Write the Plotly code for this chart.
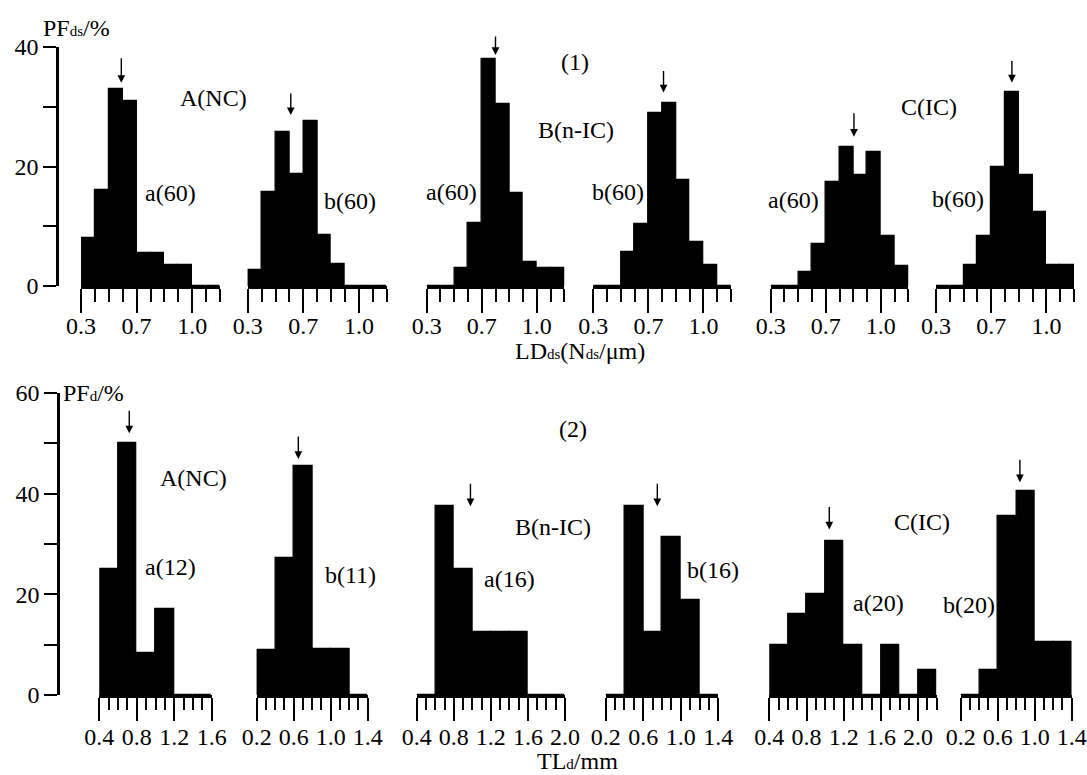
import numpy as np
import plotly.graph_objects as go

# ---------------- data ----------------
# Row (1): LDds histograms, bins of 0.1 from 0.3 to 1.3
ld_bin_start = 0.3
ld_bin_width = 0.1
ld_A_a = [8, 16, 33, 31, 5.5, 5.5, 3.5, 3.5, 0, 0]
ld_A_b = [2.7, 15.7, 25.7, 18.7, 27.6, 8.6, 3.6, 0, 0, 0]
ld_B_a = [0, 0, 3, 10.5, 38, 30.5, 15.5, 4, 3, 3]
ld_B_b = [0, 0, 5.7, 10.4, 29, 30.7, 17.7, 7.4, 3.5, 0]
ld_C_a = [0, 0, 2.4, 7.1, 17.4, 23.3, 18.6, 22.5, 8.4, 3.3]
ld_C_b = [0, 0, 3.5, 8.3, 20, 32.4, 18.6, 12.4, 3.5, 3.5]
ld_means = [0.59, 0.61, 0.80, 0.81, 0.905, 0.85]
ld_ticktext = ["0.3", "0.7", "1.0"]
ld_tickvals = [0.3, 0.7, 1.1]

# Row (2): TLd histograms, bins of 0.2
tl_bin_width = 0.2
tl_A_a = [25, 50, 8.3, 17, 0, 0]              # from 0.4
tl_A_b = [9, 27.3, 45.5, 9.1, 9.1, 0]         # from 0.2
tl_B_a = [0, 37.5, 25, 12.5, 12.5, 12.5, 0, 0]  # from 0.4
tl_B_b = [0, 37.5, 12.5, 31.3, 18.8, 0]       # from 0.2
tl_C_a = [10, 16, 20, 30.5, 10, 0, 10, 0, 5]  # from 0.4
tl_C_b = [0, 5, 35.5, 40.5, 10.5, 10.5]       # from 0.2
tl_starts = [0.4, 0.2, 0.4, 0.2, 0.4, 0.2]
tl_ranges = [(0.4, 1.6), (0.2, 1.4), (0.4, 2.0), (0.2, 1.4), (0.4, 2.2), (0.2, 1.4)]
tl_majors = [[0.4, 0.8, 1.2, 1.6], [0.2, 0.6, 1.0, 1.4], [0.4, 0.8, 1.2, 1.6, 2.0],
             [0.2, 0.6, 1.0, 1.4], [0.4, 0.8, 1.2, 1.6, 2.0], [0.2, 0.6, 1.0, 1.4]]
tl_means = [0.72, 0.65, 0.98, 0.75, 1.045, 0.84]

panel_labels_1 = ["a(60)", "b(60)", "a(60)", "b(60)", "a(60)", "b(60)"]
panel_labels_2 = ["a(12)", "b(11)", "a(16)", "b(16)", "a(20)", "b(20)"]
group_labels = ["A(NC)", "B(n-IC)", "C(IC)"]

# ---------------- layout geometry (pixels) ----------------
W, H = 1087, 775
FONT = "Liberation Serif, Times New Roman, serif"
FS = 24
TFS = 24

def px(x):
    return x / W

def py(y):
    return 1 - y / H

row1_dom = [(81, 220), (247.7, 386.7), (426.7, 564.3), (593.3, 731), (770.7, 908.3), (936, 1074)]
row2_dom = [(99.3, 211.7), (256.7, 367.7), (416.7, 565), (605.7, 718.3), (769.3, 936.7), (960.7, 1071.7)]
row1_y = (286, 47)
row2_y = (695, 393)
arrow_gap1 = [6, 6, 4, 10, 10, 10]
arrow_len1 = [26, 23, 20, 23, 25, 23]
arrow_gap2 = [10, 7, 0, 0, 12, 9]
arrow_len2 = [24, 24, 24, 24, 24, 24]

fig = go.Figure()
layout = dict(
    width=W, height=H, margin=dict(l=0, r=0, t=0, b=0, autoexpand=False),
    paper_bgcolor="white", plot_bgcolor="rgba(0,0,0,0)",
    showlegend=False, bargap=0, font=dict(family=FONT, size=FS, color="black"),
)

annotations = []

def add_arrow(xref, yref, xv, top, gap, length):
    annotations.append(dict(
        x=xv, y=top, xref=xref, yref=yref, text="", showarrow=True,
        ax=0, ay=-(gap + length), axref="pixel", ayref="pixel",
        standoff=gap, arrowhead=2, arrowsize=1.1, arrowwidth=1.4, arrowcolor="black",
    ))

ld_series = [ld_A_a, ld_A_b, ld_B_a, ld_B_b, ld_C_a, ld_C_b]
tl_series = [tl_A_a, tl_A_b, tl_B_a, tl_B_b, tl_C_a, tl_C_b]

axis_common = dict(
    showline=True, linecolor="black", linewidth=2.5, showgrid=False, zeroline=False,
    ticks="outside", tickcolor="black", tickwidth=1.6, automargin=False,
    tickfont=dict(family=FONT, size=TFS, color="black"), fixedrange=True,
)

bar_marker = dict(color="black", line=dict(color="black", width=1.2))

# Row 1
for i, vals in enumerate(ld_series):
    n = i + 1
    xname = "x" if n == 1 else f"x{n}"
    edges = ld_bin_start + ld_bin_width * np.arange(len(vals))
    centers = edges + ld_bin_width / 2
    fig.add_trace(go.Bar(x=centers, y=vals, width=ld_bin_width, xaxis=xname, yaxis="y",
                         marker=bar_marker, hoverinfo="skip"))
    d0, d1 = row1_dom[i]
    minor_vals = [round(v, 2) for v in np.arange(0.3, 1.3001, 0.1)]
    layout["xaxis" if n == 1 else f"xaxis{n}"] = dict(
        axis_common, domain=[px(d0), px(d1)], range=[0.3, 1.3], anchor="y",
        tickvals=ld_tickvals, ticktext=ld_ticktext, ticklen=24, ticklabelstandoff=-8,
        minor=dict(tickvals=minor_vals, ticklen=13, tickwidth=1.6, tickcolor="black", ticks="outside"),
    )
    add_arrow(xname, "y", ld_means[i], max(vals), arrow_gap1[i], arrow_len1[i])

# Row 2
for i, vals in enumerate(tl_series):
    n = i + 7
    xname = f"x{n}"
    edges = tl_starts[i] + tl_bin_width * np.arange(len(vals))
    centers = edges + tl_bin_width / 2
    fig.add_trace(go.Bar(x=centers, y=vals, width=tl_bin_width, xaxis=xname, yaxis="y2",
                         marker=bar_marker, hoverinfo="skip"))
    d0, d1 = row2_dom[i]
    r0, r1 = tl_ranges[i]
    minor_vals = [round(v, 2) for v in np.arange(r0, r1 + 0.001, 0.1)]
    layout[f"xaxis{n}"] = dict(
        axis_common, domain=[px(d0), px(d1)], range=[r0, r1], anchor="y2",
        tickvals=tl_majors[i], ticktext=[f"{v:.1f}" for v in tl_majors[i]], ticklen=23,
        ticklabelstandoff=-5,
        minor=dict(tickvals=minor_vals, ticklen=12, tickwidth=1.6, tickcolor="black", ticks="outside"),
    )
    add_arrow(xname, "y2", tl_means[i], max(vals), arrow_gap2[i], arrow_len2[i])

layout["yaxis"] = dict(
    axis_common, domain=[py(row1_y[0]), py(row1_y[1])], range=[0, 40], anchor="free",
    position=px(57), tickvals=[0, 20, 40], ticklen=13,
    minor=dict(tickvals=[10, 30], ticklen=13, tickwidth=1.6, tickcolor="black", ticks="outside"),
)
layout["yaxis2"] = dict(
    axis_common, domain=[py(row2_y[0]), py(row2_y[1])], range=[0, 60], anchor="free",
    position=px(58), tickvals=[0, 20, 40, 60], ticklen=13,
    minor=dict(tickvals=[10, 30, 50], ticklen=13, tickwidth=1.6, tickcolor="black", ticks="outside"),
)

def text(xp, yp, s, anchor="center", size=FS):
    annotations.append(dict(x=px(xp), y=py(yp), xref="paper", yref="paper", text=s,
                            showarrow=False, xanchor=anchor, yanchor="middle",
                            font=dict(family=FONT, size=size, color="black")))

small = '<span style="font-size:15px">{}</span>'

# Row 1 texts
text(41, 28, "PF" + small.format("ds") + "/%", anchor="left")
text(213, 98, group_labels[0])
text(576, 130, group_labels[1])
text(929, 107, group_labels[2])
text(575, 62, "(1)")
for (xp, yp), s in zip([(170, 193), (350, 201), (451, 192), (618, 192), (793, 200), (958, 199)], panel_labels_1):
    text(xp, yp, s)
text(580, 351, "LD" + small.format("ds") + "(N" + small.format("ds") + "/μm)")

# Row 2 texts
text(61, 393, "PF" + small.format("d") + "/%", anchor="left")
text(193, 478, group_labels[0])
text(553, 527, group_labels[1])
text(922, 522, group_labels[2])
text(573, 429, "(2)")
for (xp, yp), s in zip([(170, 567), (350, 575), (509, 579), (713, 570), (878, 603), (969, 605)], panel_labels_2):
    text(xp, yp, s)
text(577, 761, "TL" + small.format("d") + "/mm")

layout["annotations"] = annotations
fig.update_layout(**layout)
fig.write_html("out.html", config={"displayModeBar": False},
               post_script="document.body.style.margin='0';document.body.style.padding='0';")
